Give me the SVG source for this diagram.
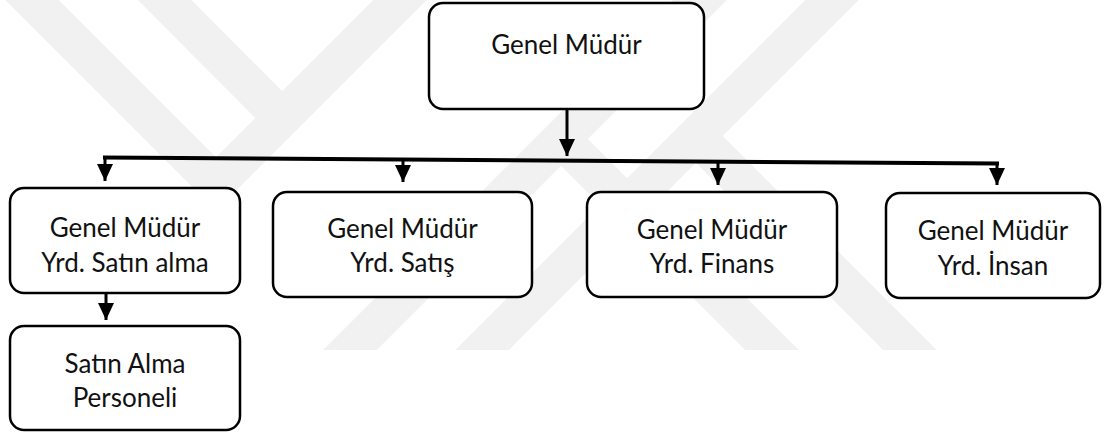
<svg xmlns="http://www.w3.org/2000/svg" width="1105" height="437" viewBox="0 0 1105 437">
  <defs>
    <style>
      .box { fill: #ffffff; stroke: #000000; stroke-width: 2.5; }
      .lbl { font-family: "Lato", "Liberation Sans", sans-serif; font-size: 26px; fill: #111111; text-anchor: middle; }
      .wire { stroke: #000000; stroke-width: 3; fill: none; }
      .bus { stroke: #000000; stroke-width: 4; fill: none; stroke-linecap: butt; }
      .mark { fill: none; stroke: #f1f1f1; stroke-width: 38; stroke-linejoin: miter; stroke-miterlimit: 10; }
    </style>
    <marker id="head" markerUnits="userSpaceOnUse" viewBox="0 0 17 16" markerWidth="17" markerHeight="16" refX="17" refY="8" orient="auto">
      <path d="M0,0 L17,8 L0,16 z" fill="#000000"/>
    </marker>
    <clipPath id="markClip">
      <rect x="0" y="0" width="1105" height="350"/>
    </clipPath>
  </defs>

  <rect x="0" y="0" width="1105" height="437" fill="#ffffff"/>

  <!-- faint background emblem made of diagonal bands -->
  <g id="emblem" clip-path="url(#markClip)">
    <path class="mark" d="M-8,-40 L216,184 L440,-40"/>
    <path class="mark" d="M125,-40 L282,118"/>
    <path class="mark" d="M740,-40 L310,390"/>
    <path class="mark" d="M872,-40 L442,390"/>
    <path class="mark" d="M561,139 L800,378"/>
    <path class="mark" d="M696,136 L940,380"/>
  </g>

  <!-- connectors -->
  <g id="connectors">
    <line class="wire" x1="567" y1="110" x2="567" y2="156" marker-end="url(#head)"/>
    <line class="bus" x1="103" y1="157.5" x2="999" y2="163.5"/>
    <line class="wire" x1="105" y1="158" x2="105" y2="181" marker-end="url(#head)"/>
    <line class="wire" x1="403" y1="160" x2="403" y2="182" marker-end="url(#head)"/>
    <line class="wire" x1="718" y1="162" x2="718" y2="185" marker-end="url(#head)"/>
    <line class="wire" x1="997" y1="163" x2="997" y2="185" marker-end="url(#head)"/>
    <line class="wire" x1="106" y1="294" x2="106" y2="320" marker-end="url(#head)"/>
  </g>

  <g id="genel-mudur">
    <rect class="box" x="429" y="3" width="275" height="106" rx="14"/>
    <text class="lbl" x="566.5" y="54">Genel Müdür</text>
  </g>

  <g id="yrd-satin-alma">
    <rect class="box" x="10" y="188" width="230" height="105" rx="14"/>
    <text class="lbl" x="125" y="237">Genel Müdür</text>
    <text class="lbl" x="125" y="272">Yrd. Satın alma</text>
  </g>

  <g id="satin-alma-personeli">
    <rect class="box" x="10" y="326" width="230" height="104" rx="14"/>
    <text class="lbl" x="125" y="373">Satın Alma</text>
    <text class="lbl" x="125" y="407">Personeli</text>
  </g>

  <g id="yrd-satis">
    <rect class="box" x="273" y="192" width="259" height="105" rx="14"/>
    <text class="lbl" x="402.5" y="238">Genel Müdür</text>
    <text class="lbl" x="402.5" y="272">Yrd. Satış</text>
  </g>

  <g id="yrd-finans">
    <rect class="box" x="587" y="192" width="250" height="105" rx="14"/>
    <text class="lbl" x="712" y="239">Genel Müdür</text>
    <text class="lbl" x="712" y="273">Yrd. Finans</text>
  </g>

  <g id="yrd-insan">
    <rect class="box" x="886" y="193" width="214" height="105" rx="14"/>
    <text class="lbl" x="993" y="240">Genel Müdür</text>
    <text class="lbl" x="993" y="275">Yrd. İnsan</text>
  </g>
</svg>
